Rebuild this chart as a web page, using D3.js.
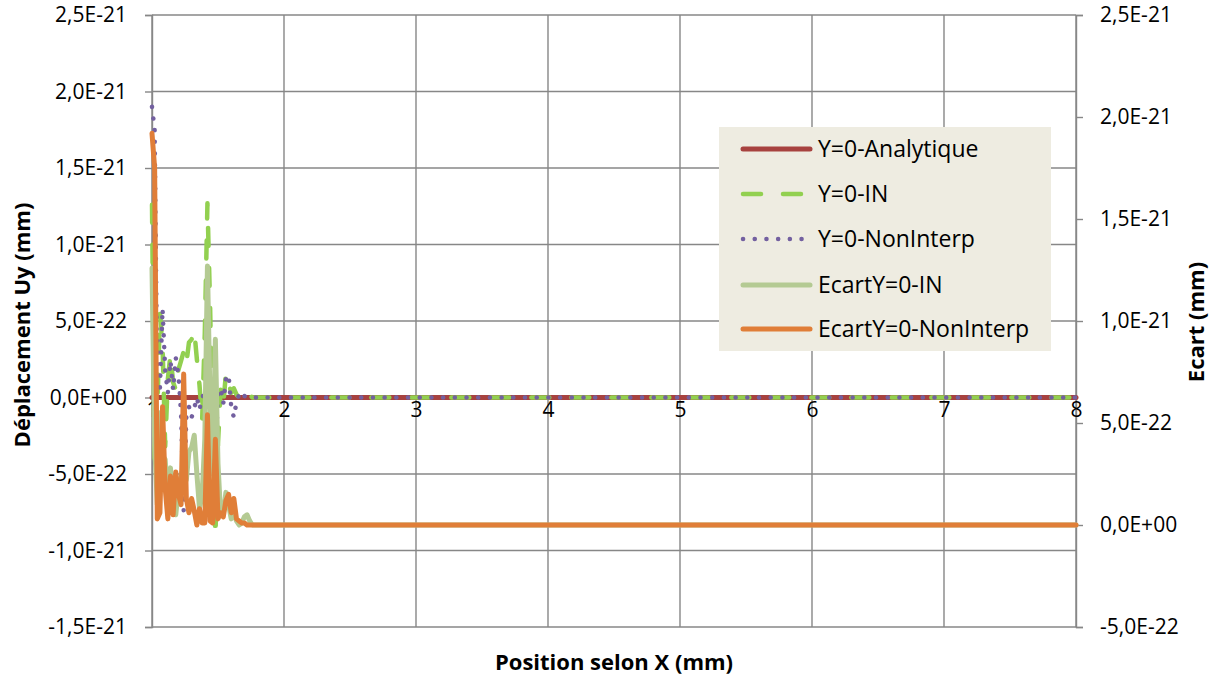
<!DOCTYPE html>
<html><head><meta charset="utf-8">
<script src="https://cdn.jsdelivr.net/npm/d3@7"></script>
<style>body{margin:0;background:#fff}svg{display:block}</style>
</head><body>
<svg id="c" width="1215" height="679"></svg>
<script>
// Values are in units of 1E-22 mm
const xs = [1.00,1.02,1.04,1.06,1.08,1.10,1.12,1.14,1.16,1.18,1.20,1.22,1.24,1.26,1.28,1.30,1.32,1.34,1.36,1.38,1.40,1.42,1.44,1.46,1.48,1.50,1.52,1.54,1.56,1.58,1.60,1.62,1.64,1.66,1.68,1.70,1.72,1.74,1.76,1.78,1.80,8.00];
const analytique = [0,0,0,0,0,0,0,0,0,0,0,0,0,0,0,0,0,0,0,0,0,0,0,0,0,0,0,0,0,0,0,0,0,0,0,0,0,0,0,0,0,0];
const valIN = [12.6,-4.0,-1.0,5.5,3.4,-3.2,1.2,2.8,1.0,0.5,1.8,2.4,3.0,2.2,3.6,3.8,4.4,2.5,0.8,-1.5,4.2,12.7,6.0,-2.5,-9.1,-3.0,0.5,-0.5,1.6,1.0,0.3,0.6,0.2,0.0,0.1,0.4,0.5,0.2,0,0,0,0];
const valNonInterp = [19.0,17.5,0.3,0.6,5.8,1.8,0.3,2.4,0.5,2.6,1.5,-1.0,-7.4,-1.3,-0.6,-1.3,-0.7,0.0,-0.8,0.1,0.1,-5.4,-0.2,0.1,-4.2,0.3,0.6,-0.4,1.2,1.5,-0.6,-1.3,-0.3,0.2,-0.1,0.1,0.0,0,0,0,0,0];
const ecartIN = [12.6,4.0,1.0,5.5,3.4,3.2,1.2,2.8,1.0,0.5,1.8,2.4,3.0,2.2,3.6,3.8,4.4,2.5,0.8,1.5,4.2,12.7,6.0,2.5,9.1,3.0,0.5,0.5,1.6,1.0,0.3,0.6,0.2,0.0,0.1,0.4,0.5,0.2,0,0,0,0];
const ecartNonInterp = [19.2,17.5,0.3,0.6,5.8,1.8,0.3,2.4,0.5,2.6,1.5,1.0,7.4,1.3,0.6,1.3,0.7,0.0,0.8,0.1,0.1,5.4,0.2,0.1,4.2,0.3,0.6,0.4,1.2,1.5,0.6,1.3,0.3,0.2,0.1,0.1,0.0,0,0,0,0,0];

const seriesNames = ["Y=0-Analytique","Y=0-IN","Y=0-NonInterp","EcartY=0-IN","EcartY=0-NonInterp"];
const xTicks = [1,2,3,4,5,6,7,8];
const leftTickVals = [25,20,15,10,5,0,-5,-10,-15];
const leftTickLabels = ["2,5E-21","2,0E-21","1,5E-21","1,0E-21","5,0E-22","0,0E+00","-5,0E-22","-1,0E-21","-1,5E-21"];
const rightTickVals = [25,20,15,10,5,0,-5];
const rightTickLabels = ["2,5E-21","2,0E-21","1,5E-21","1,0E-21","5,0E-22","0,0E+00","-5,0E-22"];

const svg = d3.select("#c");
const L = 152, R = 1076, T = 15, B = 627;
const x = d3.scaleLinear().domain([1,8]).range([L,R]);
const yL = d3.scaleLinear().domain([-15,25]).range([B,T]);
const yR = d3.scaleLinear().domain([-5,25]).range([B,T]);
const font = "'Open Sans', sans-serif";
const grid = "#878787";
const tickFs = 21, titleFs = 22, legFs = 23;

svg.append("rect").attr("width",1215).attr("height",679).attr("fill","#fff");

// gridlines
svg.append("g").selectAll("line").data(leftTickVals).join("line")
  .attr("x1",L).attr("x2",R).attr("y1",d=>yL(d)).attr("y2",d=>yL(d))
  .attr("stroke",grid).attr("stroke-width",1.4);
svg.append("g").selectAll("line").data(xTicks).join("line")
  .attr("x1",d=>x(d)).attr("x2",d=>x(d)).attr("y1",T).attr("y2",B)
  .attr("stroke",grid).attr("stroke-width",1.4);

// left axis
const gL = svg.append("g").attr("transform",`translate(${L},0)`)
  .call(d3.axisLeft(yL).tickValues(leftTickVals).tickSize(7).tickPadding(18)
    .tickFormat((d,i)=>leftTickLabels[i]));
// right axis
const gR = svg.append("g").attr("transform",`translate(${R},0)`)
  .call(d3.axisRight(yR).tickValues(rightTickVals).tickSize(7).tickPadding(17)
    .tickFormat((d,i)=>rightTickLabels[i]));
[gL,gR].forEach(g=>{
  g.select(".domain").attr("stroke",grid).attr("stroke-width",1.4);
  g.selectAll(".tick line").attr("stroke",grid).attr("stroke-width",1.4);
  g.selectAll("text").attr("font-family",font).attr("font-size",tickFs).attr("fill","#000");
});
// x axis (crosses at 0)
const gX = svg.append("g").attr("transform",`translate(0,${yL(0)})`)
  .call(d3.axisBottom(x).tickValues(xTicks).tickSize(0).tickPadding(5).tickFormat(d3.format("d")));
gX.select(".domain").attr("stroke",grid).attr("stroke-width",1.4);
gX.selectAll("text").attr("font-family",font).attr("font-size",tickFs).attr("fill","#000");

// series
const lineL = d3.line().x((d,i)=>x(xs[i])).y(d=>yL(d));
const lineR = d3.line().x((d,i)=>x(xs[i])).y(d=>yR(d));
const styles = [
  {data:analytique, line:lineL, color:"#A7423F", w:5, dash:null},
  {data:valIN, line:lineL, color:"#92D050", w:4.5, dash:"18 22"},
  {data:valNonInterp, line:lineL, color:"#7360A0", w:4.5, dash:"0.1 11.6"},
  {data:ecartIN, line:lineR, color:"#B4CA93", w:5, dash:null},
  {data:ecartNonInterp, line:lineR, color:"#E07E38", w:5, dash:null}
];
styles.forEach(s=>{
  svg.append("path").attr("d",s.line(s.data)).attr("fill","none")
    .attr("stroke",s.color).attr("stroke-width",s.w)
    .attr("stroke-linecap","round").attr("stroke-linejoin","round")
    .attr("stroke-dasharray",s.dash);
});

// axis titles
svg.append("text").attr("transform",`translate(30,${(T+B)/2+4}) rotate(-90)`)
  .attr("text-anchor","middle").attr("font-family",font).attr("font-weight","bold")
  .attr("font-size",titleFs).text("Déplacement Uy (mm)");
svg.append("text").attr("transform",`translate(1204,${(T+B)/2+1}) rotate(-90)`)
  .attr("text-anchor","middle").attr("font-family",font).attr("font-weight","bold")
  .attr("font-size",titleFs).text("Ecart (mm)");
svg.append("text").attr("x",(L+R)/2).attr("y",670)
  .attr("text-anchor","middle").attr("font-family",font).attr("font-weight","bold")
  .attr("font-size",titleFs).text("Position selon X (mm)");

// legend
const lg = svg.append("g");
lg.append("rect").attr("x",719).attr("y",127).attr("width",332).attr("height",224).attr("fill","#EEECE1");
const legY = [149,194,239,285,329];
seriesNames.forEach((n,i)=>{
  const s = styles[i];
  lg.append("line").attr("x1",743).attr("x2",i===1?805:(i===2?808:810)).attr("y1",legY[i]).attr("y2",legY[i])
    .attr("stroke",s.color).attr("stroke-width",s.w).attr("stroke-linecap","round")
    .attr("stroke-dasharray",s.dash);
  lg.append("text").attr("x",818).attr("y",legY[i]).attr("dy","0.36em")
    .attr("font-family",font).attr("font-size",legFs).attr("fill","#000").text(n);
});
</script>
</body></html>
